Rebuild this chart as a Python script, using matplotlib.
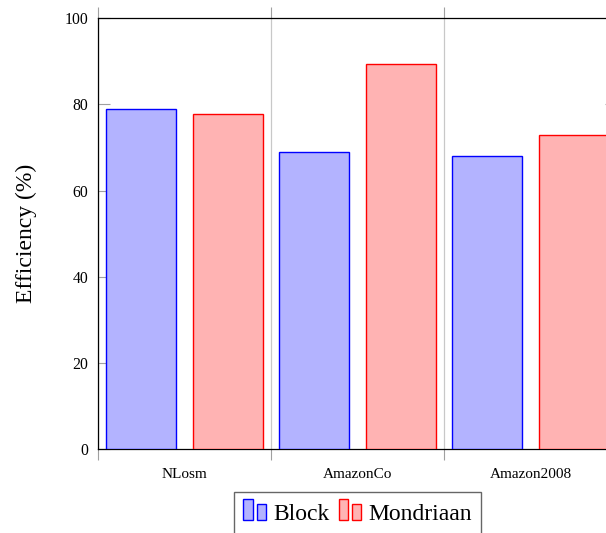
import matplotlib
matplotlib.use("Agg")
import matplotlib.pyplot as plt
from matplotlib.patches import Rectangle
from matplotlib.legend_handler import HandlerBase
import numpy as np

plt.rcParams['font.family'] = ['Liberation Serif', 'DejaVu Serif']

categories = ["NLosm", "AmazonCo", "Amazon2008"]
series_names = ["Block", "Mondriaan"]
block_eff = [78.9, 69.0, 68.1]
mondriaan_eff = [77.8, 89.5, 73.0]
y_ticks = [0, 20, 40, 60, 80, 100]

face_colors = ["#b3b3ff", "#ffb3b3"]
edge_colors = ["#0000ff", "#ff0000"]


class TwoBarHandler(HandlerBase):
    """Legend glyph made of two small bars standing on the text baseline."""

    def create_artists(self, legend, orig_handle, xdescent, ydescent,
                       width, height, fontsize, trans):
        fc = orig_handle.get_facecolor()
        ec = orig_handle.get_edgecolor()
        bw = width * 0.41
        gap = width * 0.18
        r1 = Rectangle((-xdescent, 0), bw, height,
                       facecolor=fc, edgecolor=ec, lw=1.0, transform=trans)
        r2 = Rectangle((-xdescent + bw + gap, 0), bw, height * 0.74,
                       facecolor=fc, edgecolor=ec, lw=1.0, transform=trans)
        return [r1, r2]


fig = plt.figure(figsize=(6.06, 5.33), dpi=100)
ax = fig.add_axes([98 / 606, 1 - 449 / 533, 519 / 606, (449 - 18.3) / 533])

x = np.arange(len(categories))
bw = 0.405
off = 0.249
b1 = ax.bar(x - off, block_eff, bw, color=face_colors[0], edgecolor=edge_colors[0],
            linewidth=1.0, label=series_names[0], zorder=3)
b2 = ax.bar(x + off, mondriaan_eff, bw, color=face_colors[1], edgecolor=edge_colors[1],
            linewidth=1.0, label=series_names[1], zorder=3)

ax.set_xlim(-0.5, len(categories) - 0.5)
ax.set_ylim(0, 100)

# y axis
ax.set_yticks(y_ticks)
ax.tick_params(axis='y', which='major', direction='in', length=8.6, width=0.8,
               color='#a0a0a0', left=True, right=True, labelsize=11.3, pad=7)

# group separators as major x ticks with grid, labels on minor ticks
ax.set_xticks(np.arange(-0.5, len(categories), 1.0))
ax.set_xticklabels([])
ax.set_xticks(x, minor=True)
ax.set_xticklabels(categories, minor=True)
ax.tick_params(axis='x', which='major', direction='out', length=8, width=0.8,
               color='#a0a0a0', bottom=True, top=True)
ax.tick_params(axis='x', which='minor', length=0, labelsize=11, pad=14)
ax.xaxis.grid(True, which='major', color='#c8c8c8', linewidth=0.9, zorder=0)

for s in ['left', 'top', 'bottom']:
    ax.spines[s].set_color('black')
    ax.spines[s].set_linewidth(0.9)
ax.spines['right'].set_linewidth(0.9)

ax.set_ylabel("Efficiency (%)", fontsize=17, labelpad=20)

leg = ax.legend(handles=[b1.patches[0], b2.patches[0]], labels=series_names,
                handler_map={Rectangle: TwoBarHandler()},
                loc='upper center', bbox_to_anchor=(0.5, -0.1), ncol=2,
                fontsize=17, frameon=True, fancybox=False, edgecolor='#404040',
                handlelength=0.95, handleheight=1.0, handletextpad=0.3,
                columnspacing=0.4, borderpad=0.38, borderaxespad=0)
leg.get_frame().set_linewidth(1.0)

fig.savefig("out.png", dpi=100)
